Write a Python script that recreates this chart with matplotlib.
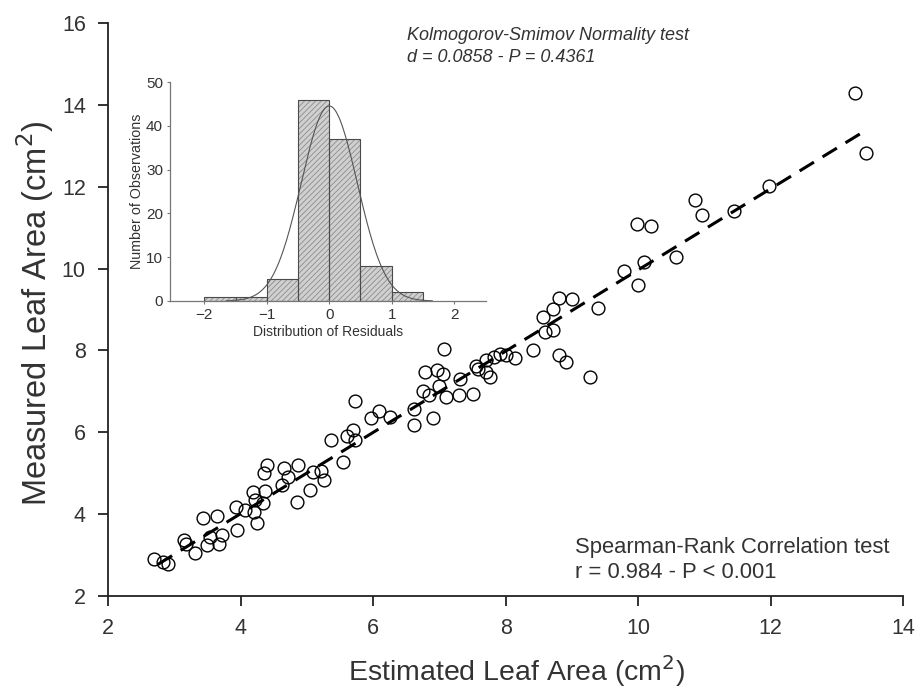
import matplotlib
matplotlib.use("Agg")
import matplotlib.pyplot as plt
import numpy as np

plt.rcParams['font.family'] = ['Liberation Sans', 'DejaVu Sans']
plt.rcParams['hatch.color'] = '#8c8c8c'
plt.rcParams['hatch.linewidth'] = 0.6

# estimated vs measured leaf area (cm2)
estimated = [2.69, 2.83, 2.91, 3.14, 3.18, 3.31, 3.43, 3.64, 3.49, 3.54,
             3.68, 3.72, 3.93, 3.94, 4.07, 4.19, 4.22, 4.34, 4.20, 4.24,
             4.37, 4.35, 4.40, 4.62, 4.66, 4.72, 4.85, 4.87, 5.04, 5.10,
             5.22, 5.26, 5.36, 5.54, 5.60, 5.70, 5.73, 5.72, 5.97, 6.09,
             6.26, 6.61, 6.61, 6.76, 6.79, 6.96, 7.05, 6.85, 7.00, 7.10,
             6.91, 7.07, 7.31, 7.30, 7.50, 7.55, 7.59, 7.71, 7.77, 7.71,
             7.82, 7.92, 8.00, 8.14, 8.42, 8.56, 8.60, 8.71, 8.71, 8.81,
             9.00, 8.81, 8.91, 9.27, 9.40, 9.78, 10.00, 10.09, 9.99, 10.19,
             10.57, 10.86, 10.96, 11.45, 11.97, 13.27, 13.44]
measured = [2.90, 2.83, 2.78, 3.38, 3.28, 3.05, 3.90, 3.95, 3.25, 3.45,
            3.26, 3.50, 4.18, 3.60, 4.10, 4.55, 4.35, 4.28, 4.04, 3.79,
            4.56, 5.01, 5.21, 4.72, 5.13, 4.90, 4.30, 5.21, 4.58, 5.04,
            5.06, 4.84, 5.82, 5.28, 5.90, 6.06, 5.82, 6.77, 6.34, 6.53,
            6.38, 6.18, 6.56, 7.00, 7.46, 7.53, 7.43, 6.90, 7.13, 6.87,
            6.34, 8.04, 7.29, 6.90, 6.94, 7.62, 7.54, 7.48, 7.36, 7.77,
            7.85, 7.91, 7.89, 7.82, 8.00, 8.82, 8.46, 8.51, 9.00, 9.28,
            9.25, 7.89, 7.72, 7.34, 9.03, 9.95, 9.60, 10.15, 11.09, 11.04,
            10.28, 11.68, 11.31, 11.41, 12.02, 14.30, 12.82]

# regression line end points
fit_x = [2.75, 13.45]
fit_y = [2.77, 13.39]

# residual histogram
bin_edges = [-2.0, -1.5, -1.0, -0.5, 0.0, 0.5, 1.0, 1.5]
bin_counts = [1, 1, 5, 46, 37, 8, 2]
resid_mean = 0.0
resid_sd = 0.448
n_obs = 100
curve_range = (-1.65, 1.65)

txt = '#333333'

fig = plt.figure(figsize=(9.16, 6.91), dpi=100)
ax = fig.add_axes([0.118, 0.1375, 0.868, 0.8293])

ax.plot(fit_x, fit_y, color='black', lw=2.2, linestyle=(0, (5.5, 3.3)),
        zorder=2)
ax.plot(estimated, measured, 'o', ms=9.2, mfc='none', mec='black', mew=1.0,
        zorder=3)

ax.set_xlim(2, 14)
ax.set_ylim(2, 16)
ax.set_xticks(np.arange(2, 15, 2))
ax.set_yticks(np.arange(2, 17, 2))
for s in ['top', 'right']:
    ax.spines[s].set_visible(False)
for s in ['left', 'bottom']:
    ax.spines[s].set_color('#222222')
    ax.spines[s].set_linewidth(1.3)
ax.tick_params(direction='out', length=7, width=1.3, color='#222222',
               labelsize=15.5, labelcolor=txt, pad=9)
ax.set_xlabel('Estimated Leaf Area (cm$^2$)', fontsize=20.5, color=txt)
ax.set_ylabel('Measured Leaf Area (cm$^2$)', fontsize=23.5, color=txt)
ax.xaxis.set_label_coords(0.514, -0.100)
ax.yaxis.set_label_coords(-0.066, 0.494)

fig.text(575 / 916, 1 - 547 / 691, 'Spearman-Rank Correlation test',
         fontsize=15.8, color=txt, va='center')
fig.text(575 / 916, 1 - 572 / 691, 'r = 0.984 - P < 0.001',
         fontsize=15.8, color=txt, va='center')

fig.text(407 / 916, 1 - 35 / 691, 'Kolmogorov-Smimov Normality test',
         fontsize=13, style='italic', color=txt, va='center')
fig.text(407 / 916, 1 - 57 / 691, 'd = 0.0858 - P = 0.4361',
         fontsize=13, style='italic', color=txt, va='center')

# inset histogram
ins = fig.add_axes([170 / 916, 1 - 301 / 691, 316 / 916, 219 / 691])
widths = np.diff(bin_edges)
ins.bar(bin_edges[:-1], bin_counts, width=widths, align='edge',
        color='#d0d0d0', edgecolor='#8c8c8c', hatch='//////', lw=0)
ins.bar(bin_edges[:-1], bin_counts, width=widths, align='edge',
        fill=False, edgecolor='#4a4a4a', lw=0.8)
xs = np.linspace(curve_range[0], curve_range[1], 200)
pdf = n_obs * widths[0] / (resid_sd * np.sqrt(2 * np.pi)) * \
    np.exp(-0.5 * ((xs - resid_mean) / resid_sd) ** 2)
ins.plot(xs, pdf, color='#555555', lw=0.8)
ins.set_xlim(-2.55, 2.51)
ins.set_ylim(0, 50)
ins.set_xticks([-2, -1, 0, 1, 2])
ins.set_yticks([0, 10, 20, 30, 40, 50])
ins.patch.set_alpha(0)
for s in ['top', 'right']:
    ins.spines[s].set_visible(False)
for s in ['left', 'bottom']:
    ins.spines[s].set_color('#777777')
    ins.spines[s].set_linewidth(0.9)
ins.tick_params(direction='out', length=2, width=0.8, color='#777777',
                labelsize=11, labelcolor=txt, pad=3)
ins.set_xlabel('Distribution of Residuals', fontsize=10, color=txt,
               labelpad=2)
ins.set_ylabel('Number of Observations', fontsize=10.3, color=txt,
               labelpad=1.5)

fig.savefig('out.png', dpi=100)
